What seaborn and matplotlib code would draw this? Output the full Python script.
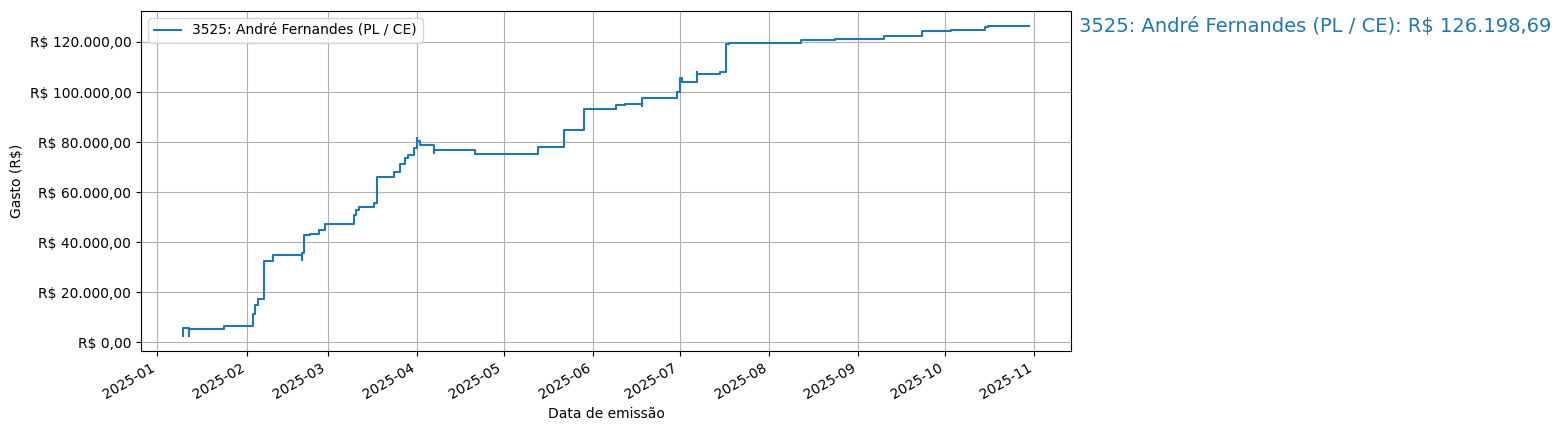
import pandas as pd
import seaborn as sns
import matplotlib.pyplot as plt
import matplotlib.dates as mdates
from matplotlib.ticker import FuncFormatter

deputado = "3525: André Fernandes (PL / CE)"

datas = [
    "2025-01-10", "2025-01-10", "2025-01-12", "2025-01-12", "2025-01-24",
    "2025-02-03", "2025-02-04", "2025-02-05", "2025-02-07", "2025-02-10",
    "2025-02-20", "2025-02-20", "2025-02-21", "2025-02-23", "2025-02-26",
    "2025-02-28", "2025-03-10", "2025-03-11", "2025-03-12", "2025-03-17",
    "2025-03-18", "2025-03-18", "2025-03-24", "2025-03-26", "2025-03-28",
    "2025-03-29", "2025-03-31", "2025-03-31", "2025-04-01", "2025-04-01",
    "2025-04-01", "2025-04-02", "2025-04-07", "2025-04-07", "2025-04-21",
    "2025-05-13", "2025-05-22", "2025-05-29", "2025-06-09", "2025-06-12",
    "2025-06-18", "2025-06-18", "2025-06-30", "2025-07-01", "2025-07-02",
    "2025-07-07", "2025-07-07", "2025-07-15", "2025-07-17", "2025-07-18",
    "2025-07-21", "2025-08-12", "2025-08-24", "2025-09-10", "2025-09-23",
    "2025-10-03", "2025-10-15", "2025-10-16", "2025-10-30",
]

gasto_acumulado = [
    2700, 5700, 2700, 5300, 6400,
    11500, 14800, 17200, 32400, 34700,
    32800, 35600, 42800, 43300, 45000,
    47300, 50700, 52800, 54100, 55500,
    64700, 66100, 68000, 71100, 73500,
    74700, 76100, 77700, 79600, 81500,
    80300, 78800, 75500, 76800, 75200,
    78100, 84800, 93300, 94700, 95300,
    94400, 97500, 100100, 105700, 104000,
    108100, 107100, 108100, 119100, 119500,
    119700, 120800, 121300, 122500, 124400,
    124900, 125800, 126198.69, 126198.69,
]

df = pd.DataFrame({"data": pd.to_datetime(datas), "gasto": gasto_acumulado})


def brl(x, pos=None):
    s = f"{x:,.2f}".replace(",", "X").replace(".", ",").replace("X", ".")
    return f"R$ {s}"


fig = plt.figure(figsize=(15.61, 4.30), dpi=100)
ax = fig.add_axes([141 / 1561, 1 - 351 / 430, 930 / 1561, 340 / 430])

sns.lineplot(data=df, x="data", y="gasto", ax=ax, estimator=None, sort=False,
             drawstyle="steps-post", label=deputado, color="C0")

ax.yaxis.set_major_formatter(FuncFormatter(brl))
ax.xaxis.set_major_locator(mdates.MonthLocator())
ax.xaxis.set_major_formatter(mdates.DateFormatter("%Y-%m"))
for lbl in ax.get_xticklabels():
    lbl.set_rotation(30)
    lbl.set_ha("right")

ax.grid(True)
ax.set_xlabel("Data de emissão")
ax.set_ylabel("Gasto (R$)")
ax.legend(loc="upper left")

ultimo = df.iloc[-1]
ax.annotate(f"{deputado}: {brl(ultimo['gasto'])}", xy=(ultimo["data"], ultimo["gasto"]),
            xytext=(36, 0), textcoords="offset points", va="center",
            fontsize=14, color="C0", annotation_clip=False)

fig.savefig("out.png", dpi=100)
